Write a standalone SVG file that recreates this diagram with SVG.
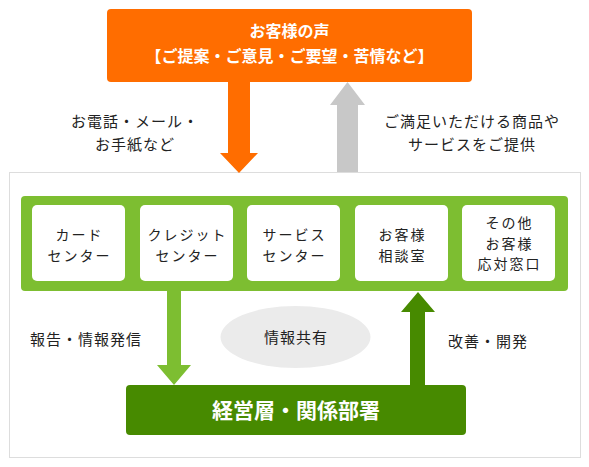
<svg xmlns="http://www.w3.org/2000/svg" width="589" height="467" viewBox="0 0 589 467">
<style>
text{font-family:"Noto Sans CJK JP","Noto Sans",sans-serif;}
.lbl{font-size:15px;letter-spacing:1px;fill:#222;text-anchor:middle;}
.cl{font-size:14px;letter-spacing:2px;fill:#222;text-anchor:middle;}
.wt{fill:#fff;font-weight:bold;text-anchor:middle;}
.card{fill:#fff;}
</style>
<rect width="589" height="467" fill="#fff"/>
<g id="outer"><rect x="9.5" y="172.5" width="571" height="285" fill="#fff" stroke="#ddd" stroke-width="1"/></g>
<g id="voice">
<rect x="107" y="9" width="365" height="73" rx="4" fill="#ff6d00"/>
<text class="wt" x="289.5" y="37" font-size="16">お客様の声</text>
<text class="wt" x="289.5" y="62" font-size="16">【ご提案・ご意見・ご要望・苦情など】</text>
</g>
<g id="connectors">
<polygon points="228,82 250,82 250,153 258,153 239,173 220,153 228,153" fill="#ff6d00"/>
<polygon points="337,172 358,172 358,105 365,105 347.5,82 330,105 337,105" fill="#c8c8c8"/>
<polygon points="167,291 181,291 181,365 191,365 174,385 157,365 167,365" fill="#7dbe31"/>
<polygon points="410,385 425,385 425,312 435,312 418,292 401,312 410,312" fill="#478a00"/>
</g>
<g id="labels">
<text class="lbl" x="135" y="127">お電話・メール・</text>
<text class="lbl" x="135" y="150">お手紙など</text>
<text class="lbl" x="472" y="127">ご満足いただける商品や</text>
<text class="lbl" x="472" y="150">サービスをご提供</text>
<text class="lbl" x="86" y="345">報告・情報発信</text>
<text class="lbl" x="488" y="347">改善・開発</text>
</g>
<g id="centers">
<rect x="21" y="196" width="547" height="95" rx="4" fill="#7dbe31"/>
<g id="card"><rect class="card" x="32" y="205" width="93" height="76" rx="5"/>
<text class="cl" x="79.5" y="240">カード</text><text class="cl" x="79.5" y="261">センター</text></g>
<g id="credit"><rect class="card" x="140" y="205" width="93" height="76" rx="5"/>
<text class="cl" x="187.5" y="240">クレジット</text><text class="cl" x="187.5" y="261">センター</text></g>
<g id="service"><rect class="card" x="247" y="205" width="93" height="76" rx="5"/>
<text class="cl" x="294.5" y="240">サービス</text><text class="cl" x="294.5" y="261">センター</text></g>
<g id="consult"><rect class="card" x="355" y="205" width="93" height="76" rx="5"/>
<text class="cl" x="402.5" y="240">お客様</text><text class="cl" x="402.5" y="261">相談室</text></g>
<g id="other"><rect class="card" x="462" y="205" width="93" height="76" rx="5"/>
<text class="cl" x="509.5" y="228">その他</text><text class="cl" x="509.5" y="248.5">お客様</text><text class="cl" x="509.5" y="269">応対窓口</text></g>
</g>
<g id="share">
<ellipse cx="295.5" cy="337" rx="75" ry="31" fill="#ebebeb"/>
<text class="lbl" x="296" y="343">情報共有</text>
</g>
<g id="mgmt">
<rect x="126" y="385" width="340" height="50" rx="4" fill="#478a00"/>
<text class="wt" x="296" y="418" font-size="21">経営層・関係部署</text>
</g>
</svg>
